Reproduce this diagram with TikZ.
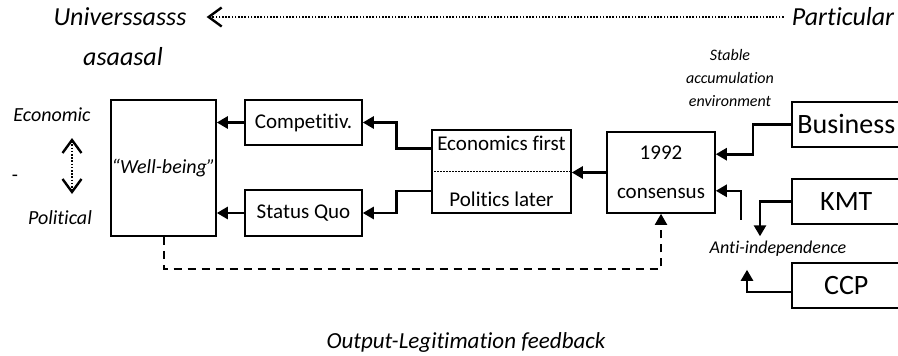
\documentclass[tikz,border=0pt]{standalone}
\usepackage{fontspec}
\setmainfont{Carlito}[Ligatures={NoCommon,NoContextual}]
\usetikzlibrary{arrows.meta,calc}
\begin{document}
\begin{tikzpicture}[x=1pt,y=-1pt,
  box/.style={draw, line width=1.6pt, inner sep=0pt, align=center, font=\fontsize{21}{25}\selectfont},
  bigbox/.style={box, font=\fontsize{28}{32}\selectfont, minimum width=109pt, minimum height=45pt, anchor=north west},
  conn/.style={line width=2.6pt, -{Triangle[length=11pt,width=12pt]}},
  dashconn/.style={line width=2pt, dash pattern=on 8pt off 6pt, -{Triangle[length=11pt,width=12pt]}},
  lbl/.style={inner sep=0pt, font=\fontsize{20}{24}\selectfont\itshape},
  biglbl/.style={inner sep=0pt, font=\fontsize{26}{30}\selectfont\itshape},
  smalllbl/.style={inner sep=0pt, align=center, font=\fontsize{16}{23}\selectfont\itshape},
  chev/.style={line width=2.2pt, dash pattern=on 1.6pt off 1.6pt},
  barb/.style={Straight Barb[length=13pt,width=19pt,line width=2.4pt]}
]
\useasboundingbox (0,0) rectangle (898,356);
% top scale
\node[biglbl] (univ) at (120,17) {Universsasss};
\node[biglbl] (asa) at (123,57) {asaasal};
\node[biglbl] (part) at (843,17) {Particular};
\draw[chev, shorten <=8pt, shorten >=20pt, -{Straight Barb[length=13pt,width=19pt,line width=2.4pt]}] (part.west) -- (univ.east);
% left axis
\node[lbl] (econ) at (52,115) {Economic};
\node[inner sep=0pt, font=\fontsize{20}{24}\selectfont] (dash) at (15,178) {-};
\node[lbl] (poli) at (60,218) {Political};
\coordinate (da1) at (72,138);
\coordinate (da2) at (72,194);
\draw[chev, {Straight Barb[length=13pt,width=19pt,line width=2.4pt]}-{Straight Barb[length=13pt,width=19pt,line width=2.4pt]}] (da1) -- (da2);
% boxes
\node[box, minimum width=105pt, minimum height=136pt, font=\fontsize{20}{24}\selectfont\itshape] (wb) at (163.5,168) {“Well-being”};
\node[box, minimum width=117pt, minimum height=45pt] (comp) at (303.5,122.5) {Competitiv.};
\node[box, minimum width=117pt, minimum height=46pt] (sq) at (303.5,213) {Status Quo};
\node[box, minimum width=139pt, minimum height=83pt] (ep) at (501.5,171.5) {Economics first\\[31pt]Politics later};
\draw[line width=1.6pt, dash pattern=on 1.5pt off 1.5pt] (ep.west) -- (ep.east);
\node[box, minimum width=108pt, minimum height=81pt] (c92) at (661,172.5) {1992\\[14pt]consensus};
\node[bigbox] (bus) at (791,101) {Business};
\node[bigbox] (kmt) at (791,178) {KMT};
\node[bigbox] (ccp) at (791,262) {CCP};
% labels
\node[smalllbl] (stable) at (730,78) {Stable\\accumulation\\environment};
\node[inner sep=0pt, font=\fontsize{18}{22}\selectfont\itshape] (anti) at (778,249) {Anti-independence};
\node[inner sep=0pt, font=\fontsize{23}{27}\selectfont\itshape] (olf) at (466,342) {Output-Legitimation feedback};
% connectors
\draw[conn] (comp.west) -- (comp.west -| wb.east);
\draw[conn] (sq.west) -- (sq.west -| wb.east);
\draw[conn] ([yshift=-19pt]ep.north west) -- ++(-35,0) |- (comp.east);
\draw[conn] ([yshift=23pt]ep.south west) -- ++(-35,0) |- (sq.east);
\draw[conn] (c92.west) -- (c92.west -| ep.east);
\draw[conn] (bus.west) -- ++(-38,0) |- ([yshift=-23pt]c92.north east);
\draw[conn] (kmt.west) -| ([xshift=-31pt,yshift=-35pt]kmt.west);
\draw[conn] ([yshift=-6.5pt]ccp.west) -| ++(-44,-22);
\coordinate (antitop) at ([xshift=25pt,yshift=-6pt]c92.south east);
\draw[conn] (antitop) |- ([yshift=23pt]c92.south east);
\draw[dashconn] (wb.south) -- ++(0,32) -| (c92.south);
\end{tikzpicture}
\end{document}
